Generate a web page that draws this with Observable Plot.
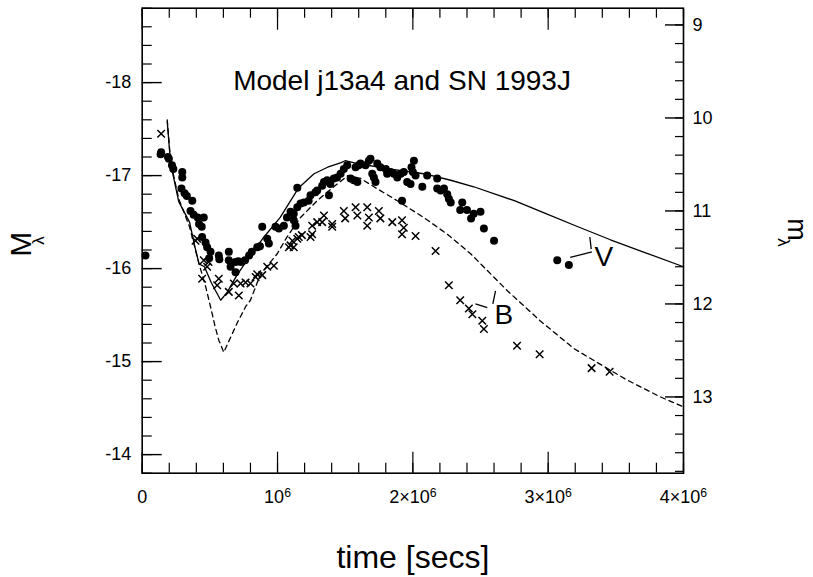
<!DOCTYPE html>
<html><head><meta charset="utf-8">
<script src="https://cdn.jsdelivr.net/npm/d3@7"></script>
<script src="https://cdn.jsdelivr.net/npm/@observablehq/plot@0.6"></script>
<style>body{margin:0;background:#fff}</style>
</head><body><div id="chart"></div>
<script>
// time in units of 10^6 s, absolute magnitude M
const vObs = [
[0.024,-16.14],[0.136,-17.23],[0.14,-17.25],[0.19,-17.2],[0.197,-17.18],[0.22,-17.11],[0.23,-17.07],
[0.296,-17.04],[0.296,-16.98],[0.29,-16.86],[0.313,-16.81],[0.33,-16.78],[0.37,-16.73],[0.357,-16.62],
[0.38,-16.58],[0.41,-16.55],[0.455,-16.55],[0.42,-16.48],[0.44,-16.45],[0.443,-16.34],[0.468,-16.28],
[0.48,-16.23],[0.505,-16.18],[0.495,-16.11],[0.566,-16.14],[0.57,-16.1],[0.64,-16.18],[0.64,-16.09],
[0.653,-16.02],[0.69,-15.96],[0.69,-16.07],[0.71,-16.08],[0.73,-16.07],[0.76,-16.09],[0.79,-16.14],
[0.81,-16.18],[0.85,-16.23],[0.87,-16.24],[0.887,-16.45],[0.924,-16.32],[0.936,-16.27],[0.985,-16.45],
[1.01,-16.43],[1.047,-16.46],[1.07,-16.55],[1.096,-16.61],[1.12,-16.52],[1.133,-16.46],[1.12,-16.59],
[1.146,-16.66],[1.17,-16.70],[1.195,-16.71],[1.146,-16.87],[1.23,-16.73],[1.244,-16.79],[1.28,-16.82],
[1.293,-16.84],[1.33,-16.89],[1.343,-16.93],[1.367,-16.95],[1.39,-16.91],[1.38,-16.79],[1.416,-16.97],
[1.44,-16.98],[1.466,-17.02],[1.49,-17.07],[1.515,-17.11],[1.54,-16.97],[1.564,-16.95],[1.59,-16.93],
[1.577,-17.09],[1.6,-17.11],[1.613,-17.13],[1.65,-17.11],[1.675,-17.16],[1.687,-17.18],[1.70,-17.02],
[1.712,-16.98],[1.724,-16.93],[1.737,-17.13],[1.76,-17.09],[1.80,-17.07],[1.81,-17.02],[1.835,-17.04],
[1.86,-17.02],[1.885,-16.98],[1.91,-17.02],[1.933,-17.04],[1.958,-16.93],[1.983,-16.91],[2.008,-17.16],
[1.99,-17.09],[2.0,-17.04],[2.02,-17.0],[2.07,-16.88],[2.106,-17.0],[2.18,-16.97],[2.18,-16.86],
[2.205,-16.84],[2.23,-16.86],[2.254,-16.80],[2.266,-16.75],[2.28,-16.71],[1.92,-16.73],[2.365,-16.71],
[2.35,-16.63],[2.4,-16.63],[2.43,-16.54],[2.45,-16.59],[2.5,-16.61],[2.525,-16.43],[2.6,-16.30],
[3.067,-16.09],[3.153,-16.04]
];
const bObs = [
[0.14,-17.45],[0.394,-16.30],[0.406,-16.32],[0.455,-16.09],[0.49,-16.07],[0.48,-16.02],[0.443,-15.89],
[0.566,-15.89],[0.554,-15.82],[0.64,-15.75],[0.714,-15.71],[0.677,-15.84],[0.727,-15.84],[0.764,-15.85],
[0.80,-15.84],[0.838,-15.91],[0.85,-15.94],[0.887,-15.93],[0.924,-16.02],[0.973,-16.03],[1.084,-16.23],
[1.096,-16.25],[1.12,-16.23],[1.146,-16.32],[1.11,-16.30],[1.157,-16.34],[1.18,-16.36],[1.244,-16.34],
[1.256,-16.37],[1.256,-16.46],[1.293,-16.50],[1.33,-16.50],[1.343,-16.57],[1.404,-16.48],[1.404,-16.45],
[1.49,-16.62],[1.5,-16.54],[1.577,-16.66],[1.59,-16.57],[1.663,-16.66],[1.675,-16.55],[1.663,-16.46],
[1.749,-16.62],[1.76,-16.54],[1.848,-16.50],[1.92,-16.52],[1.933,-16.44],[1.92,-16.37],[2.02,-16.35],
[2.168,-16.19],[2.266,-15.82],[2.35,-15.66],[2.414,-15.57],[2.44,-15.51],[2.513,-15.44],[2.525,-15.35],
[2.77,-15.17],[2.937,-15.08],[3.321,-14.93],[3.454,-14.89]
];
const vModel = [
[0.185,-17.58],[0.21,-17.13],[0.27,-16.72],[0.35,-16.5],[0.39,-16.23],[0.42,-16.05],[0.46,-16.02],
[0.51,-15.85],[0.58,-15.66],[0.63,-15.75],[0.70,-15.93],[0.78,-16.1],[0.9,-16.34],[1.02,-16.55],
[1.157,-16.87],[1.27,-17.02],[1.37,-17.09],[1.47,-17.14],[1.5,-17.16],[1.59,-17.13],[1.835,-17.07],
[2.08,-17.02],[2.28,-16.95],[2.45,-16.88],[2.75,-16.73],[2.97,-16.60],[3.22,-16.45],[3.46,-16.31],
[3.72,-16.17],[4.0,-16.02]
];
const bModel = [
[0.185,-17.6],[0.21,-17.15],[0.27,-16.75],[0.35,-16.45],[0.42,-16.05],[0.47,-15.8],[0.505,-15.59],
[0.54,-15.37],[0.566,-15.23],[0.603,-15.10],[0.653,-15.26],[0.70,-15.41],[0.764,-15.59],[0.8,-15.66],
[0.874,-15.94],[0.998,-16.16],[1.07,-16.34],[1.17,-16.55],[1.293,-16.73],[1.416,-16.88],[1.52,-17.0],
[1.613,-16.97],[1.712,-16.88],[1.885,-16.73],[2.08,-16.55],[2.254,-16.37],[2.427,-16.16],[2.7,-15.76],
[2.94,-15.44],[3.19,-15.14],[3.34,-15.01],[3.585,-14.80],[3.83,-14.62],[3.99,-14.52]
];
// labels and leader lines (t in 10^6 s, M)
const seriesLabels = [["V",3.412,-16.12],["B",2.673,-15.50]];
const leaders = [
[3.163,-16.12,3.323,-16.18],[3.308,-16.34,3.318,-16.21],
[2.463,-15.62,2.550,-15.58],[2.611,-15.76,2.591,-15.62]
];
const titleText = "Model j13a4 and SN 1993J";
const xMajor = [0,1,2,3,4];
const xTickBase = ["0","10","2\u00d710","3\u00d710","4\u00d710"];
const xTickExp = ["","6","6","6","6"];
const yMajor = [-18,-17,-16,-15,-14];
const mMajor = [9,10,11,12,13];
const distMod = 27.62; // m = M + distMod

const S = 1e6;
const xMinor = d3.range(0, 4.0001, 0.2).map(d => +d.toFixed(1));
const yMinor = d3.range(-18.8, -13.79, 0.2).map(d => +d.toFixed(1));
const mMinor = d3.range(9, 13.81, 0.2).map(d => +d.toFixed(1));

const font = "Liberation Sans, Arial, Helvetica, sans-serif";
const blank = () => "";
const SEP = "\u0001";

const chart = Plot.plot({
  width: 813, height: 577,
  marginLeft: 141.7, marginRight: 130, marginTop: 7.7, marginBottom: 104.3,
  x: {domain: [0, 4e6]},
  y: {domain: [-13.8, -18.8]},
  style: {fontFamily: font, background: "white", color: "black", overflow: "visible"},
  marks: [
    // ticks (inward)
    Plot.axisX(xMinor.map(d => d*S), {anchor: "bottom", tickSize: -10, tickFormat: blank, label: null, strokeWidth: 1.2}),
    Plot.axisX(xMajor.map(d => d*S), {anchor: "bottom", tickSize: -21, tickFormat: blank, label: null, strokeWidth: 1.2}),
    Plot.axisX(xMinor.map(d => d*S), {anchor: "top", tickSize: -9, tickFormat: blank, label: null, strokeWidth: 1.2}),
    Plot.axisX(xMajor.map(d => d*S), {anchor: "top", tickSize: -21, tickFormat: blank, label: null, strokeWidth: 1.2}),
    Plot.axisY(yMinor, {anchor: "left", tickSize: -10, tickFormat: blank, label: null, strokeWidth: 1.2}),
    Plot.axisY(yMajor, {anchor: "left", tickSize: -20, tickFormat: blank, label: null, strokeWidth: 1.4}),
    Plot.axisY(mMinor.map(m => m - distMod), {anchor: "right", tickSize: -9, tickFormat: blank, label: null, strokeWidth: 1.2}),
    Plot.axisY(mMajor.map(m => m - distMod), {anchor: "right", tickSize: -19, tickFormat: blank, label: null, strokeWidth: 1.4}),
    // tick labels
    Plot.axisX(xMajor.map(d => d*S), {anchor: "bottom", tickSize: 0, tickPadding: 17, fontSize: 18,
      tickFormat: d => { const i = xMajor.indexOf(d / S); return xTickExp[i] ? xTickBase[i] + SEP + xTickExp[i] : xTickBase[i]; }, label: null}),
    Plot.axisY(yMajor, {anchor: "left", tickSize: 0, tickPadding: 11, fontSize: 18,
      tickFormat: d => String(d), label: null}),
    Plot.axisY(mMajor.map(m => m - distMod), {anchor: "right", tickSize: 0, tickPadding: 9, fontSize: 18,
      tickFormat: d => String(Math.round(d + distMod)), label: null}),
    Plot.frame({stroke: "black", strokeWidth: 1.6}),
    // model curves
    Plot.line(vModel, {x: d => d[0]*S, y: d => d[1], stroke: "black", strokeWidth: 1.3}),
    Plot.line(bModel, {x: d => d[0]*S, y: d => d[1], stroke: "black", strokeWidth: 1.3, strokeDasharray: "5,4"}),
    // observations
    Plot.dot(vObs, {x: d => d[0]*S, y: d => d[1], r: 4, fill: "black", stroke: "none"}),
    Plot.dot(bObs, {x: d => d[0]*S, y: d => d[1], r: 3.5, symbol: "times", stroke: "black", strokeWidth: 1.5}),
    // labels
    Plot.link(leaders, {x1: d => d[0]*S, y1: d => d[1], x2: d => d[2]*S, y2: d => d[3], stroke: "black", strokeWidth: 1.3}),
    Plot.text(seriesLabels, {x: d => d[1]*S, y: d => d[2], text: d => d[0], fontSize: 28, fill: "black"}),
    Plot.text([titleText], {x: 1.92*S, y: -18.02, text: d => d, fontSize: 28, fill: "black"}),
    // axis titles
    Plot.text(["time [secs]"], {frameAnchor: "bottom", dy: 95, text: d => d, fontSize: 32, fill: "black"}),
    Plot.text(["M"], {frameAnchor: "left", dx: -120.7, dy: 16, rotate: -90, text: d => d, fontSize: 30, fill: "black"}),
    Plot.text(["\u03bb"], {frameAnchor: "left", dx: -103.7, dy: 4, rotate: -90, text: d => d, fontSize: 17, fill: "black"}),
    Plot.text(["m"], {frameAnchor: "right", dx: 113, dy: 0, rotate: 90, text: d => d, fontSize: 27, fill: "black"}),
    Plot.text(["\u03bb"], {frameAnchor: "right", dx: 100, dy: 6, rotate: 90, text: d => d, fontSize: 17, fill: "black"})
  ]
});
// render exponents of the x tick labels as real superscripts
d3.select(chart).selectAll("text").each(function() {
  const s = this.textContent;
  if (s.includes(SEP)) {
    const [base, exp] = s.split(SEP);
    const t = d3.select(this);
    t.text(null);
    t.append("tspan").text(base);
    t.append("tspan").attr("dy", "-0.45em").attr("font-size", "0.68em").text(exp);
  }
});
document.getElementById("chart").appendChild(chart);
</script>
</body></html>
